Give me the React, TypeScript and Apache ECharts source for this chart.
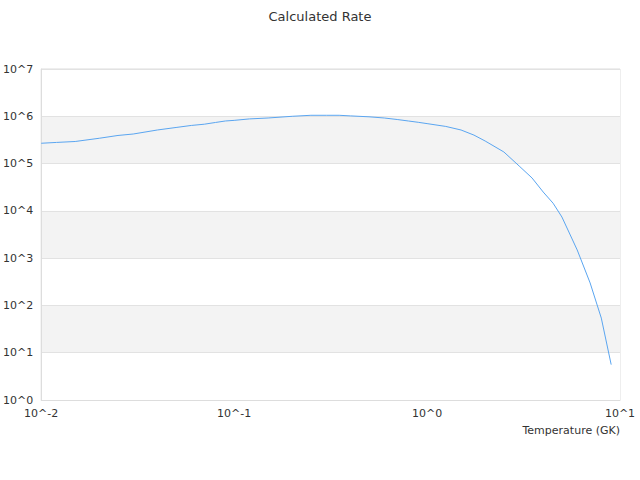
import React, { useEffect, useRef } from "react";
import * as echarts from "echarts";

const temperatures: number[] = [
  0.01, 0.012, 0.015, 0.02, 0.025, 0.03, 0.04, 0.05, 0.06, 0.07, 0.08, 0.09,
  0.1, 0.12, 0.15, 0.2, 0.25, 0.3, 0.35, 0.4, 0.5, 0.6, 0.7, 0.8, 0.9, 1.0,
  1.25, 1.5, 1.75, 2.0, 2.5, 3.0, 3.5, 4.0, 4.5, 5.0, 6.0, 7.0, 8.0, 9.0,
];
const rates: number[] = [
  2.69e5, 2.8e5, 2.93e5, 3.43e5, 3.93e5, 4.22e5, 5.13e5, 5.8e5, 6.4e5, 6.8e5,
  7.4e5, 7.95e5, 8.2e5, 8.8e5, 9.2e5, 1.0e6, 1.05e6, 1.05e6, 1.05e6, 1.02e6,
  9.75e5, 9.2e5, 8.55e5, 7.95e5, 7.46e5, 7.0e5, 6.1e5, 5.13e5, 4.0e5, 3.0e5,
  1.76e5, 8.9e4, 4.96e4, 2.5e4, 1.45e4, 7.4e3, 1.49e3, 299, 54, 5.6,
];

const titleText = "Calculated Rate";
const xAxisName = "Temperature (GK)";

const powerLabel = (v: number) => "10^" + Math.round(Math.log10(v));

export default function App() {
  const ref = useRef<HTMLDivElement>(null);
  useEffect(() => {
    if (!ref.current) return;
    const chart = echarts.init(ref.current, null, { renderer: "svg" });
    chart.setOption({
      animation: false,
      backgroundColor: "#ffffff",
      textStyle: { fontFamily: "DejaVu Sans" },
      title: {
        text: titleText,
        left: "center",
        top: 5,
        textStyle: { fontSize: 13, fontWeight: "normal", color: "#333" },
      },
      grid: {
        left: 40,
        right: 20,
        top: 69,
        bottom: 80,
        show: true,
        borderColor: "#dddddd",
        borderWidth: 1,
        backgroundColor: "transparent",
      },
      xAxis: {
        type: "log",
        logBase: 10,
        min: 0.01,
        max: 10,
        name: xAxisName,
        nameLocation: "end",
        nameGap: 0,
        nameTextStyle: {
          fontSize: 11,
          color: "#333",
          align: "right",
          verticalAlign: "top",
          padding: [25, 0, 0, 0],
        },
        axisLine: { show: true, lineStyle: { color: "#dddddd" } },
        axisTick: { show: false },
        splitLine: { show: false },
        axisLabel: { fontSize: 11, color: "#333", formatter: powerLabel },
      },
      yAxis: {
        type: "log",
        logBase: 10,
        min: 1,
        max: 1e7,
        axisLine: { show: true, lineStyle: { color: "#dddddd" } },
        axisTick: { show: false },
        splitLine: { show: true, lineStyle: { color: "#e2e2e2" } },
        splitArea: { show: true, areaStyle: { color: ["#ffffff", "#f3f3f3"] } },
        axisLabel: { fontSize: 11, color: "#333", formatter: powerLabel },
      },
      series: [
        {
          type: "line",
          data: temperatures.map((t, i) => [t, rates[i]]),
          showSymbol: false,
          symbol: "none",
          lineStyle: { color: "#5aa5f0", width: 1 },
        },
      ],
    });
    return () => chart.dispose();
  }, []);
  return <div ref={ref} style={{ width: 640, height: 480, position: "absolute", left: 0, top: 0 }} />;
}
